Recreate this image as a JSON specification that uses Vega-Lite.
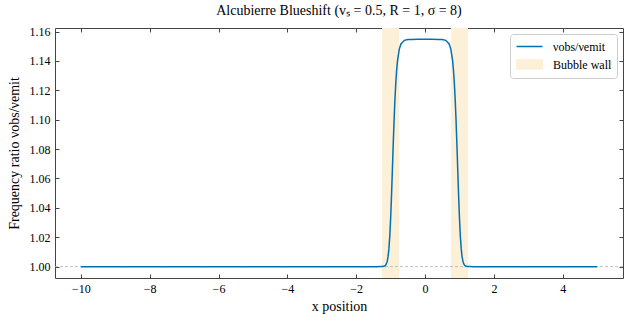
{
  "$schema": "https://vega.github.io/schema/vega-lite/v6.json",
  "width": 568,
  "height": 250,
  "autosize": "none",
  "padding": {"left": 55, "top": 28, "right": 11, "bottom": 42},
  "title": {"text": "Alcubierre Blueshift (vₛ = 0.5, R = 1, σ = 8)", "font": "Liberation Serif", "fontSize": 14, "fontWeight": "normal", "offset": 8, "color": "black"},
  "config": {
    "view": {"stroke": "#444", "strokeWidth": 1},
    "axis": {"labelFont": "Liberation Serif", "labelFontSize": 12, "labelColor": "black", "titleFont": "Liberation Serif", "titleFontSize": 14, "titleFontWeight": "normal", "titleColor": "black", "grid": false, "domain": false, "tickColor": "#444", "tickSize": 4}
  },
  "datasets": {
    "ratio": [
      {"x": -10, "y": 1}, {"x": -1.5, "y": 1}, {"x": -1.4, "y": 1}, {"x": -1.3, "y": 1.00001},
      {"x": -1.25, "y": 1.00004}, {"x": -1.2, "y": 1.00019}, {"x": -1.175, "y": 1.00041}, {"x": -1.15, "y": 1.00087},
      {"x": -1.125, "y": 1.00178}, {"x": -1.1, "y": 1.00355}, {"x": -1.075, "y": 1.00676}, {"x": -1.05, "y": 1.01224},
      {"x": -1.025, "y": 1.02076}, {"x": -1.0, "y": 1.03279}, {"x": -0.975, "y": 1.04806}, {"x": -0.95, "y": 1.06542},
      {"x": -0.925, "y": 1.08317}, {"x": -0.9, "y": 1.09967}, {"x": -0.875, "y": 1.11383}, {"x": -0.85, "y": 1.12518},
      {"x": -0.825, "y": 1.13384}, {"x": -0.8, "y": 1.14018}, {"x": -0.75, "y": 1.14789}, {"x": -0.7, "y": 1.15158},
      {"x": -0.6, "y": 1.15405}, {"x": -0.5, "y": 1.15457}, {"x": -0.4, "y": 1.15467}, {"x": -0.2, "y": 1.1547},
      {"x": 0, "y": 1.1547},
      {"x": 0.2, "y": 1.1547}, {"x": 0.4, "y": 1.15467}, {"x": 0.5, "y": 1.15457}, {"x": 0.6, "y": 1.15405},
      {"x": 0.7, "y": 1.15158}, {"x": 0.75, "y": 1.14789}, {"x": 0.8, "y": 1.14018}, {"x": 0.825, "y": 1.13384},
      {"x": 0.85, "y": 1.12518}, {"x": 0.875, "y": 1.11383}, {"x": 0.9, "y": 1.09967}, {"x": 0.925, "y": 1.08317},
      {"x": 0.95, "y": 1.06542}, {"x": 0.975, "y": 1.04806}, {"x": 1.0, "y": 1.03279}, {"x": 1.025, "y": 1.02076},
      {"x": 1.05, "y": 1.01224}, {"x": 1.075, "y": 1.00676}, {"x": 1.1, "y": 1.00355}, {"x": 1.125, "y": 1.00178},
      {"x": 1.15, "y": 1.00087}, {"x": 1.175, "y": 1.00041}, {"x": 1.2, "y": 1.00019}, {"x": 1.25, "y": 1.00004},
      {"x": 1.3, "y": 1.00001}, {"x": 1.4, "y": 1}, {"x": 1.5, "y": 1}, {"x": 5, "y": 1}
    ],
    "walls": [
      {"x0": -1.25, "x1": -0.75},
      {"x0": 0.75, "x1": 1.25}
    ]
  },
  "layer": [
    {
      "data": {"name": "walls"},
      "mark": {"type": "rect"},
      "encoding": {
        "x": {"field": "x0", "type": "quantitative", "axis": null, "scale": {"domain": [-10.75, 5.75], "nice": false, "zero": false}},
        "x2": {"field": "x1"},
        "color": {"datum": "Bubble wall", "type": "nominal"}
      }
    },
    {
      "data": {"values": [{}]},
      "mark": {"type": "rule", "color": "#b0b0b0", "strokeDash": [3, 2], "strokeWidth": 0.8},
      "encoding": {
        "y": {"datum": 1, "type": "quantitative", "axis": null, "scale": {"domain": [0.99226, 1.16244], "nice": false, "zero": false}}
      }
    },
    {
      "data": {"name": "ratio"},
      "mark": {"type": "line", "strokeWidth": 1.5},
      "encoding": {
        "x": {"field": "x", "type": "quantitative", "scale": {"domain": [-10.75, 5.75], "nice": false, "zero": false},
              "axis": {"values": [-10, -8, -6, -4, -2, 0, 2, 4], "ticks": false, "labelPadding": 5, "title": "x position", "titlePadding": 5}},
        "y": {"field": "y", "type": "quantitative", "scale": {"domain": [0.99226, 1.16244], "nice": false, "zero": false},
              "axis": {"values": [1.0, 1.02, 1.04, 1.06, 1.08, 1.1, 1.12, 1.14, 1.16], "format": ".2f", "ticks": false, "labelPadding": 5, "title": "Frequency ratio νobs/νemit", "titlePadding": 8}},
        "color": {"datum": "νobs/νemit", "type": "nominal",
          "scale": {"domain": ["νobs/νemit", "Bubble wall"], "range": ["#0072B2", "#FDF0D8"]},
          "legend": {"title": null, "orient": "top-right", "offset": 6, "strokeColor": "#cccccc", "fillColor": "white", "padding": 5, "cornerRadius": 3,
            "labelFont": "Liberation Serif", "labelFontSize": 12, "labelColor": "black", "symbolSize": 169, "rowPadding": 3, "symbolOffset": 7, "labelOffset": 16,
            "encode": {"symbols": {"update": {
              "shape": {"signal": "datum.value === 'Bubble wall' ? 'M-2,-0.7H2V0.7H-2Z' : 'M-2,0H2'"},
              "fill": {"signal": "datum.value === 'Bubble wall' ? '#FDF0D8' : 'transparent'"},
              "stroke": {"signal": "datum.value === 'Bubble wall' ? 'transparent' : '#0072B2'"},
              "strokeWidth": {"value": 1.5},
              "opacity": {"value": 1}
            }}}}
        }
      }
    },
    {
      "data": {"name": "ratio"},
      "mark": {"type": "point", "opacity": 0},
      "encoding": {
        "x": {"field": "x", "type": "quantitative", "scale": {"domain": [-10.75, 5.75], "nice": false, "zero": false},
              "axis": {"orient": "top", "offset": -4, "values": [-10, -8, -6, -4, -2, 0, 2, 4], "labels": false, "title": null}},
        "y": {"field": "y", "type": "quantitative", "scale": {"domain": [0.99226, 1.16244], "nice": false, "zero": false},
              "axis": {"orient": "right", "offset": -4, "values": [1.0, 1.02, 1.04, 1.06, 1.08, 1.1, 1.12, 1.14, 1.16], "labels": false, "title": null}}
      }
    },
    {
      "data": {"name": "ratio"},
      "mark": {"type": "point", "opacity": 0},
      "encoding": {
        "x": {"field": "x", "type": "quantitative", "scale": {"domain": [-10.75, 5.75], "nice": false, "zero": false},
              "axis": {"orient": "bottom", "offset": -4, "values": [-10, -8, -6, -4, -2, 0, 2, 4], "labels": false, "title": null}},
        "y": {"field": "y", "type": "quantitative", "scale": {"domain": [0.99226, 1.16244], "nice": false, "zero": false},
              "axis": {"orient": "left", "offset": -4, "values": [1.0, 1.02, 1.04, 1.06, 1.08, 1.1, 1.12, 1.14, 1.16], "labels": false, "title": null}}
      }
    }
  ],
  "resolve": {"axis": {"x": "independent", "y": "independent"}}
}
